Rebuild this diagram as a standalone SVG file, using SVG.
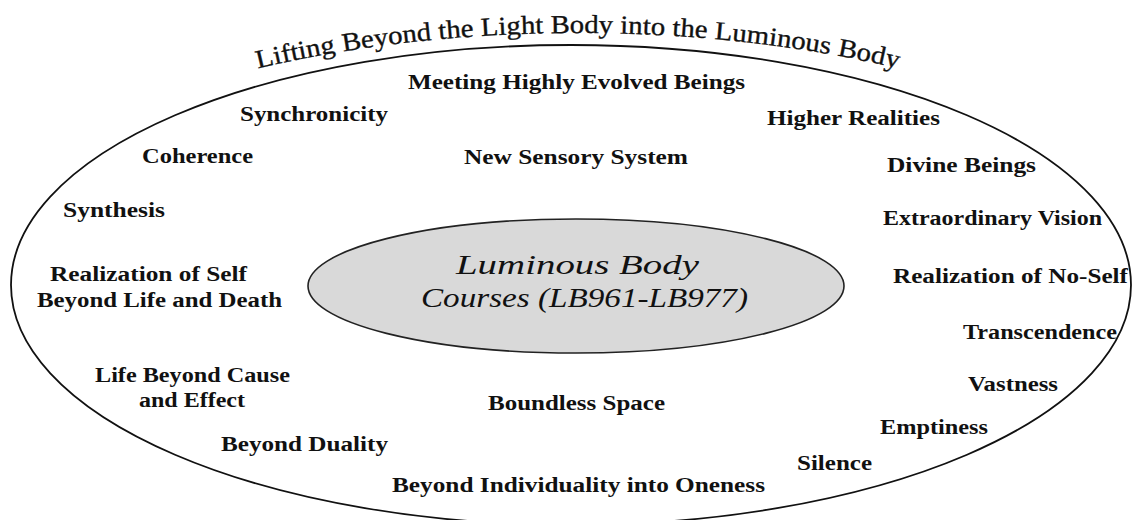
<svg xmlns="http://www.w3.org/2000/svg" width="1132" height="520" viewBox="0 0 1132 520">
  <style>
    .lbl { font-family: "Liberation Serif", "Times New Roman", serif; font-weight: bold; font-size: 20px; fill: #111; text-anchor: middle; }
    .core { font-family: "Liberation Serif", "Times New Roman", serif; font-style: italic; font-size: 28px; fill: #111; text-anchor: middle; }
    .title { font-family: "Liberation Serif", "Times New Roman", serif; font-size: 26px; fill: #111; stroke: #111; stroke-width: 0.35; }
  </style>
  <defs>
    <path id="titleArc" d="M 153 100.2 A 625 252 0 0 1 1003 100.2" fill="none"/>
  </defs>
  <rect width="1132" height="520" fill="#ffffff"/>

  <g id="outer">
    <ellipse cx="571" cy="285" rx="560" ry="240" fill="none" stroke="#111" stroke-width="1.8"/>
  </g>

  <g id="title">
    <text class="title"><textPath href="#titleArc" startOffset="109.8" textLength="79.8" lengthAdjust="spacingAndGlyphs">Lifting</textPath></text>
    <text class="title"><textPath href="#titleArc" startOffset="196.8" textLength="89.4" lengthAdjust="spacingAndGlyphs">Beyond</textPath></text>
    <text class="title"><textPath href="#titleArc" startOffset="293.4" textLength="35.1" lengthAdjust="spacingAndGlyphs">the</textPath></text>
    <text class="title"><textPath href="#titleArc" startOffset="335.7" textLength="62.2" lengthAdjust="spacingAndGlyphs">Light</textPath></text>
    <text class="title"><textPath href="#titleArc" startOffset="405.1" textLength="62.2" lengthAdjust="spacingAndGlyphs">Body</textPath></text>
    <text class="title"><textPath href="#titleArc" startOffset="474.5" textLength="44.7" lengthAdjust="spacingAndGlyphs">into</textPath></text>
    <text class="title"><textPath href="#titleArc" startOffset="526.4" textLength="35.1" lengthAdjust="spacingAndGlyphs">the</textPath></text>
    <text class="title"><textPath href="#titleArc" startOffset="568.7" textLength="116.5" lengthAdjust="spacingAndGlyphs">Luminous</textPath></text>
    <text class="title"><textPath href="#titleArc" startOffset="692.4" textLength="62.2" lengthAdjust="spacingAndGlyphs">Body</textPath></text>
  </g>

  <g id="core">
    <ellipse cx="576" cy="286" rx="268" ry="67" fill="#d9d9d9" stroke="#222" stroke-width="1.6"/>
    <text class="core" x="577.5" y="274" textLength="243" lengthAdjust="spacingAndGlyphs">Luminous Body</text>
    <text class="core" x="584.5" y="307" textLength="327" lengthAdjust="spacingAndGlyphs">Courses (LB961-LB977)</text>
  </g>

  <g id="connectors"></g>

  <g id="n-meeting"><text class="lbl" x="576.5" y="89" textLength="337" lengthAdjust="spacingAndGlyphs">Meeting Highly Evolved Beings</text></g>
  <g id="n-synchronicity"><text class="lbl" x="314" y="121" textLength="148" lengthAdjust="spacingAndGlyphs">Synchronicity</text></g>
  <g id="n-higher"><text class="lbl" x="853.5" y="125" textLength="173" lengthAdjust="spacingAndGlyphs">Higher Realities</text></g>
  <g id="n-coherence"><text class="lbl" x="197.5" y="163" textLength="111" lengthAdjust="spacingAndGlyphs">Coherence</text></g>
  <g id="n-sensory"><text class="lbl" x="576" y="164" textLength="224" lengthAdjust="spacingAndGlyphs">New Sensory System</text></g>
  <g id="n-divine"><text class="lbl" x="961.5" y="172" textLength="149" lengthAdjust="spacingAndGlyphs">Divine Beings</text></g>
  <g id="n-synthesis"><text class="lbl" x="114" y="217" textLength="102" lengthAdjust="spacingAndGlyphs">Synthesis</text></g>
  <g id="n-vision"><text class="lbl" x="992.5" y="225" textLength="219" lengthAdjust="spacingAndGlyphs">Extraordinary Vision</text></g>
  <g id="n-self">
    <text class="lbl" x="148.5" y="281" textLength="197" lengthAdjust="spacingAndGlyphs">Realization of Self</text>
    <text class="lbl" x="159.5" y="307" textLength="245" lengthAdjust="spacingAndGlyphs">Beyond Life and Death</text>
  </g>
  <g id="n-noself"><text class="lbl" x="1010.5" y="283" textLength="235" lengthAdjust="spacingAndGlyphs">Realization of No-Self</text></g>
  <g id="n-transcendence"><text class="lbl" x="1040" y="339" textLength="154" lengthAdjust="spacingAndGlyphs">Transcendence</text></g>
  <g id="n-cause">
    <text class="lbl" x="192.5" y="382" textLength="195" lengthAdjust="spacingAndGlyphs">Life Beyond Cause</text>
    <text class="lbl" x="192" y="407" textLength="106" lengthAdjust="spacingAndGlyphs">and Effect</text>
  </g>
  <g id="n-vastness"><text class="lbl" x="1013" y="391" textLength="90" lengthAdjust="spacingAndGlyphs">Vastness</text></g>
  <g id="n-boundless"><text class="lbl" x="576.5" y="410" textLength="177" lengthAdjust="spacingAndGlyphs">Boundless Space</text></g>
  <g id="n-emptiness"><text class="lbl" x="934" y="434" textLength="108" lengthAdjust="spacingAndGlyphs">Emptiness</text></g>
  <g id="n-duality"><text class="lbl" x="304.5" y="451" textLength="167" lengthAdjust="spacingAndGlyphs">Beyond Duality</text></g>
  <g id="n-silence"><text class="lbl" x="834.5" y="470" textLength="75" lengthAdjust="spacingAndGlyphs">Silence</text></g>
  <g id="n-oneness"><text class="lbl" x="578.5" y="492" textLength="373" lengthAdjust="spacingAndGlyphs">Beyond Individuality into Oneness</text></g>
</svg>
